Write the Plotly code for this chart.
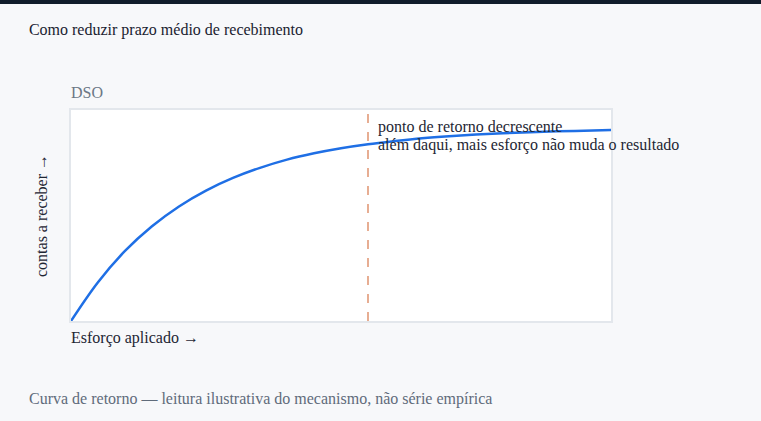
import plotly.graph_objects as go

# curva ilustrativa
esforco = [0, 0.5, 1, 1.5, 2, 2.5, 3, 3.5, 4, 4.5, 5,
           5.5, 6, 6.5, 7, 7.5, 8, 8.5, 9, 9.5, 10]
contas = [0, 0.184, 0.332, 0.449, 0.543, 0.618, 0.678, 0.726, 0.765, 0.795, 0.819,
          0.838, 0.853, 0.866, 0.876, 0.884, 0.890, 0.895, 0.899, 0.902, 0.905]
ponto_retorno = 5.5
nota = ["ponto de retorno decrescente",
        "além daqui, mais esforço não muda o resultado"]

FONT = "Liberation Serif"

fig = go.Figure()
fig.add_trace(go.Scatter(x=esforco, y=contas, mode="lines",
                         line=dict(color="#1f6fe5", width=2.5, shape="spline"),
                         hoverinfo="skip", showlegend=False))

fig.add_shape(type="line", xref="x", yref="paper",
              x0=ponto_retorno, x1=ponto_retorno, y0=0, y1=1,
              line=dict(color="#e29a78", width=1.6, dash="dash"))

# barra escura no topo
fig.add_shape(type="rect", xref="paper", yref="paper",
              x0=-0.2, x1=1.4, y0=1.502, y1=1.55,
              fillcolor="#111c2b", line_width=0, layer="above")

# nota do ponto de retorno, uma linha por anotacao
for i, linha in enumerate(nota):
    fig.add_annotation(x=ponto_retorno, y=1, xref="x", yref="paper", text=linha,
                       showarrow=False, xanchor="left", yanchor="middle",
                       xshift=8, yshift=-17 - 18 * i,
                       font=dict(family=FONT, size=16, color="#1e2633"))

fig.add_annotation(x=0, y=1.081, xref="paper", yref="paper", text="DSO",
                   showarrow=False, xanchor="left", yanchor="middle", xshift=-2,
                   font=dict(family=FONT, size=16, color="#6b7785"))

fig.add_annotation(x=0, y=-0.081, xref="paper", yref="paper", text="Esforço aplicado →",
                   showarrow=False, xanchor="left", yanchor="middle", xshift=-2,
                   font=dict(family=FONT, size=16, color="#1e2633"))

fig.add_annotation(x=-0.078, y=-0.37, xref="paper", yref="paper",
                   text="Curva de retorno — leitura ilustrativa do mecanismo, não série empírica",
                   showarrow=False, xanchor="left", yanchor="middle", xshift=-2,
                   font=dict(family=FONT, size=16, color="#5f6b7a"))

fig.update_layout(
    width=761, height=421,
    margin=dict(l=71, r=150, t=110, b=100),
    paper_bgcolor="#f7f8fa", plot_bgcolor="#ffffff",
    font=dict(family=FONT, size=16, color="#1e2633"),
    title=dict(text="Como reduzir prazo médio de recebimento", x=0.038, xanchor="left",
               xref="container", y=0.929, yref="container", yanchor="middle",
               font=dict(family=FONT, size=16, color="#1a2230")),
)
fig.update_xaxes(range=[0, 10], showticklabels=False, showgrid=False, zeroline=False,
                 showline=True, mirror=True, linecolor="#e3e7ec", linewidth=1.5, ticks="")
fig.update_yaxes(range=[0, 1], showticklabels=False, showgrid=False, zeroline=False,
                 showline=True, mirror=True, linecolor="#e3e7ec", linewidth=1.5, ticks="",
                 title=dict(text="contas a receber →", standoff=18,
                            font=dict(family=FONT, size=16, color="#1e2633")))

fig.write_html("out.html", config={"displayModeBar": False},
               post_script="document.body.style.margin='0';")
